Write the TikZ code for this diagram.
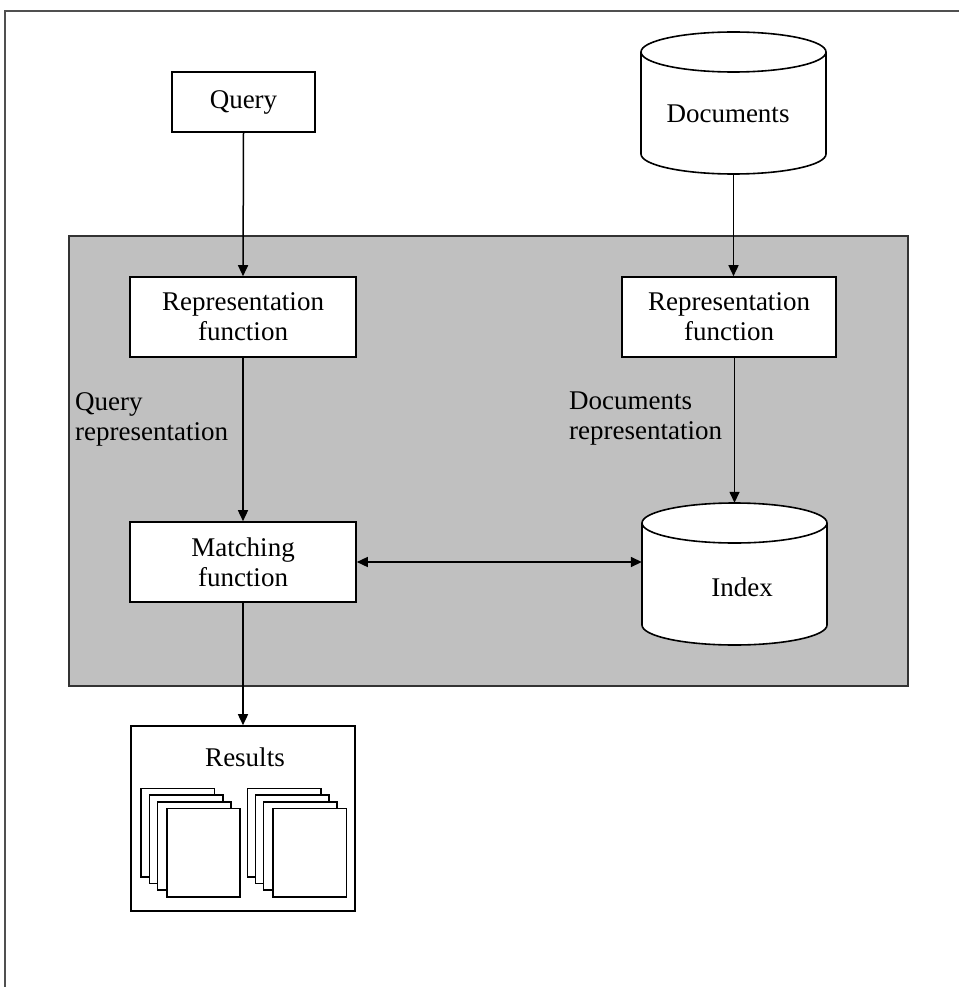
\documentclass[tikz,border=0pt]{standalone}
\usepackage{fontspec}
\setmainfont{Liberation Serif}
\usetikzlibrary{arrows.meta}
\definecolor{panel}{HTML}{C0C0C0}
\definecolor{frame}{HTML}{505050}
\tikzset{
  box/.style={draw=black, line width=1.6pt, fill=white, inner sep=0pt, align=center},
  lbl/.style={inner sep=0pt, align=left, anchor=west},
  conn/.style={line width=1.5pt, -{Triangle[length=11pt,width=10pt]}},
  dconn/.style={line width=1.5pt, {Triangle[length=11pt,width=10pt]}-{Triangle[length=11pt,width=10pt]}},
  page/.style={draw=black, line width=1.6pt, fill=white},
  cyl/.style={draw=black, line width=1.6pt, fill=white},
}
\begin{document}
\begin{tikzpicture}[x=1pt,y=-1pt,font=\fontsize{27}{30}\selectfont]
\useasboundingbox (0,0) rectangle (958,987);
% outer frame (top and left edges visible)
\draw[frame, line width=1.8pt] (5,990) -- (5,11) -- (960,11);
% grey panel
\node[draw=black!80, line width=1.6pt, fill=panel, minimum width=839pt, minimum height=450pt, inner sep=0pt] (panel) at (488.5,461) {};
% query
\node[box, minimum width=143pt, minimum height=60pt] (query) at (243.5,102) {Query};
% documents cylinder
\fill[white] (641,52) -- (641,154) arc[start angle=180,end angle=360,x radius=92.5pt,y radius=20pt] -- (826,52) -- cycle;
\draw[cyl] (641,52) -- (641,154) arc[start angle=180,end angle=360,x radius=92.5pt,y radius=20pt] -- (826,52);
\draw[cyl] (733.5,52) ellipse[x radius=92.5pt,y radius=20pt];
\node[inner sep=0pt, minimum width=185pt, minimum height=143pt] (docs) at (733.5,103) {};
\node[inner sep=0pt] (docstext) at (728,114) {Documents};
% representation functions
\node[box, minimum width=226pt, minimum height=80pt] (rep1) at (243,317) {Representation\\function};
\node[box, minimum width=214pt, minimum height=80pt] (rep2) at (729,317) {Representation\\function};
% labels
\node[lbl] (qrep) at (75,419) {Query\\representation};
\node[lbl] (drep) at (569,419) {Documents\\representation};
% matching
\node[box, minimum width=226pt, minimum height=80pt] (match) at (243,562) {Matching\\function};
% index cylinder
\fill[white] (642,523) -- (642,625) arc[start angle=180,end angle=360,x radius=92.5pt,y radius=20pt] -- (827,523) -- cycle;
\draw[cyl] (642,523) -- (642,625) arc[start angle=180,end angle=360,x radius=92.5pt,y radius=20pt] -- (827,523);
\draw[cyl] (734.5,523) ellipse[x radius=92.5pt,y radius=20pt];
\node[inner sep=0pt, minimum width=185pt, minimum height=142pt] (index) at (734.5,574) {};
\node[inner sep=0pt] (indextext) at (742,587) {Index};
% results
\node[box, minimum width=224pt, minimum height=185pt] (results) at (243,818.5) {};
\node[inner sep=0pt] (restext) at (245,757) {Results};
\foreach \dx/\dy in {0/0, 8.3/6.7, 16.3/13.4, 25.7/20} {
  \draw[page] (141+\dx,788.3+\dy) rectangle ++(73.5,88.5);
  \draw[page] (247.3+\dx,788.3+\dy) rectangle ++(73.5,88.5);
}
% connectors
\coordinate (r2b) at (rep2.south -| index.north);
\draw[conn] (query.south) -- (rep1.north);
\draw[conn] (docs.south) -- (docs.south |- rep2.north);
\draw[conn] (rep1.south) -- (match.north);
\draw[conn] (r2b) -- (index.north);
\draw[dconn] (match.east) -- (match.east -| index.west);
\draw[conn] (match.south) -- (results.north);
\end{tikzpicture}
\end{document}
